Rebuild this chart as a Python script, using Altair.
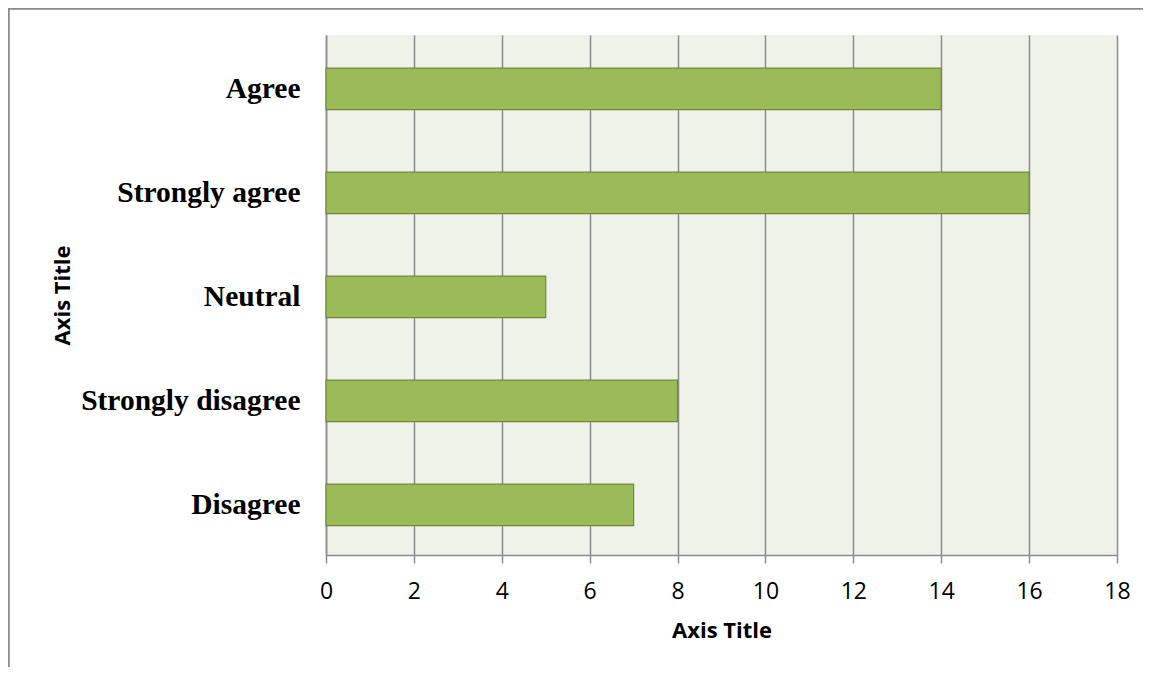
import altair as alt
import pandas as pd

categories = ["Agree", "Strongly agree", "Neutral", "Strongly disagree", "Disagree"]
counts = [14, 16, 5, 8, 7]
x_ticks = [0, 2, 4, 6, 8, 10, 12, 14, 16, 18]

df = pd.DataFrame({"category": categories, "count": counts})

W, H = 791, 520
PAD_L, PAD_T = 318, 27
PAD_R, PAD_B = 26, 112

bars = alt.Chart(df).mark_bar(
    fill="#9BBB59", stroke="#71893F", strokeWidth=1.2
).encode(
    x=alt.X("count:Q",
            scale=alt.Scale(domain=[0, 18], nice=False, zero=True),
            axis=alt.Axis(values=x_ticks, title="Axis Title", grid=True,
                          gridColor="#8C8C8C", gridWidth=1.5, gridOpacity=1,
                          domainColor="#8C8C8C", domainWidth=1.5,
                          tickColor="#8C8C8C", tickWidth=1.5, tickSize=8,
                          labelFont="Open Sans", labelFontSize=23, labelColor="#000000",
                          labelPadding=17, labelFlush=False,
                          titleFont="Open Sans", titleFontSize=22, titleFontWeight="bold",
                          titleColor="#000000", titleY=75, titleBaseline="middle")),
    y=alt.Y("category:N", sort=categories,
            scale=alt.Scale(paddingInner=0.6, paddingOuter=0.3, align=0.53),
            axis=alt.Axis(title="Axis Title", grid=False,
                          domainColor="#8C8C8C", domainWidth=1.5,
                          ticks=False, labelPadding=26, labelLimit=400,
                          labelFont="Liberation Serif", labelFontSize=29.5,
                          labelFontWeight="bold", labelColor="#000000",
                          titleFont="Open Sans", titleFontSize=22, titleFontWeight="bold",
                          titleColor="#000000", titleX=-264, titleY=H / 2,
                          titleBaseline="middle", titleAngle=-90)),
)

top_border = alt.Chart(df).mark_rule(color="#8C8C8C", strokeWidth=1.5).encode(
    x=alt.value(-PAD_L), x2=alt.value(W + PAD_R), y=alt.value(-PAD_T + 0.5)
)
left_border = alt.Chart(df).mark_rule(color="#8C8C8C", strokeWidth=1.5).encode(
    x=alt.value(-PAD_L + 0.5), y=alt.value(-PAD_T), y2=alt.value(H + PAD_B)
)

chart = alt.layer(bars, top_border, left_border).properties(
    width=W, height=H,
    autosize=alt.AutoSizeParams(type="none"),
    padding={"left": PAD_L, "top": PAD_T, "right": PAD_R, "bottom": PAD_B},
    background="white",
).configure_view(fill="#EFF2E9", stroke=None)

chart.save("out.html", embed_options={"renderer": "svg", "actions": False})
